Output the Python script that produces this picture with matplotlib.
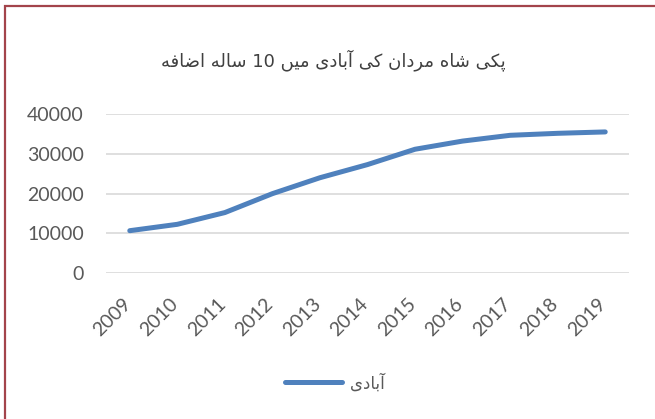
import matplotlib
matplotlib.use("Agg")
import matplotlib.pyplot as plt
import matplotlib.transforms as mtransforms
from matplotlib.patches import Rectangle

# data
years = ["2009", "2010", "2011", "2012", "2013", "2014", "2015", "2016", "2017", "2018", "2019"]
population = [10700, 12300, 15250, 20000, 24000, 27300, 31150, 33200, 34650, 35150, 35500]
y_ticks = [0, 10000, 20000, 30000, 40000]

title_text = "پکی شاه مردان کی آبادی میں 10 ساله اضافه"
legend_text = "آبادی"

# Arabic presentation forms: isolated, final, initial, medial
FORMS = {
    "ا": (0xFE8D, 0xFE8E, None, None),
    "آ": (0xFE81, 0xFE82, None, None),
    "ب": (0xFE8F, 0xFE90, 0xFE91, 0xFE92),
    "پ": (0xFB56, 0xFB57, 0xFB58, 0xFB59),
    "د": (0xFEA9, 0xFEAA, None, None),
    "ر": (0xFEAD, 0xFEAE, None, None),
    "س": (0xFEB1, 0xFEB2, 0xFEB3, 0xFEB4),
    "ش": (0xFEB5, 0xFEB6, 0xFEB7, 0xFEB8),
    "ض": (0xFEBD, 0xFEBE, 0xFEBF, 0xFEC0),
    "ف": (0xFED1, 0xFED2, 0xFED3, 0xFED4),
    "ل": (0xFEDD, 0xFEDE, 0xFEDF, 0xFEE0),
    "م": (0xFEE1, 0xFEE2, 0xFEE3, 0xFEE4),
    "ن": (0xFEE5, 0xFEE6, 0xFEE7, 0xFEE8),
    "ں": (0xFB9E, 0xFB9F, None, None),
    "ک": (0xFB8E, 0xFB8F, 0xFB90, 0xFB91),
    "ی": (0xFBFC, 0xFBFD, 0xFBFE, 0xFBFF),
    "ه": (0xFEE9, 0xFEEA, 0xFEEB, 0xFEEC),
}


def shape_word(word):
    if not any(c in FORMS for c in word):
        return word
    out = []
    for i, c in enumerate(word):
        f = FORMS.get(c)
        if f is None:
            out.append(c)
            continue
        prev = FORMS.get(word[i - 1]) if i > 0 else None
        nxt = FORMS.get(word[i + 1]) if i + 1 < len(word) else None
        join_prev = prev is not None and prev[2] is not None
        join_next = nxt is not None and f[2] is not None
        if join_prev and join_next:
            code = f[3]
        elif join_prev:
            code = f[1]
        elif join_next:
            code = f[2]
        else:
            code = f[0]
        out.append(chr(code))
    return "".join(reversed(out))


def rtl(text):
    return " ".join(shape_word(w) for w in reversed(text.split(" ")))


fig = plt.figure(figsize=(6.55, 4.19), dpi=100)
fig.patches.append(Rectangle((5 / 655, -0.1), 1.2, 1 - 6.5 / 419 + 0.1,
                             transform=fig.transFigure, fill=False,
                             edgecolor="#A3444B", linewidth=1.6))

ax = fig.add_axes([106 / 655, 1 - 273.3 / 419, 523 / 655, 159.3 / 419])
x = list(range(len(years)))
ax.plot(x, population, color="#4F81BD", linewidth=3.6,
        solid_capstyle="round", solid_joinstyle="round", zorder=3)

ax.set_xlim(-0.5, 10.5)
ax.set_ylim(0, 40000)
ax.set_yticks(y_ticks)
ax.set_yticklabels([str(v) for v in y_ticks])
ax.set_xticks(x)
ax.set_xticklabels(years, rotation=45, ha="right", va="top")
ax.grid(axis="y", color="#D9D9D9", linewidth=1.2)
ax.set_axisbelow(True)
for s in ax.spines.values():
    s.set_visible(False)
ax.tick_params(axis="y", length=0, pad=16, labelsize=14, labelcolor="#595959")
ax.tick_params(axis="x", length=0, pad=16, labelsize=14, labelcolor="#595959")
for lbl in ax.get_xticklabels() + ax.get_yticklabels():
    lbl.set_family("Lato")

# nudge the rotated year labels a little to the right
shift = mtransforms.ScaledTranslation(4 / 100, 0, fig.dpi_scale_trans)
for lbl in ax.get_xticklabels():
    lbl.set_transform(lbl.get_transform() + shift)

fig.text(333 / 655, 1 - 60 / 419, rtl(title_text), ha="center", va="center",
         fontsize=13, color="#404040", family="DejaVu Sans")

handle, = ax.plot([], [], color="#4F81BD", linewidth=3.6, solid_capstyle="round")
leg = fig.legend([handle], [rtl(legend_text)], loc="center",
                 bbox_to_anchor=(335 / 655, 1 - 383 / 419), frameon=False,
                 handlelength=3.4, handletextpad=0.5,
                 prop={"family": "DejaVu Sans", "size": 12})
for t in leg.get_texts():
    t.set_color("#595959")

fig.savefig("out.png", dpi=100)
